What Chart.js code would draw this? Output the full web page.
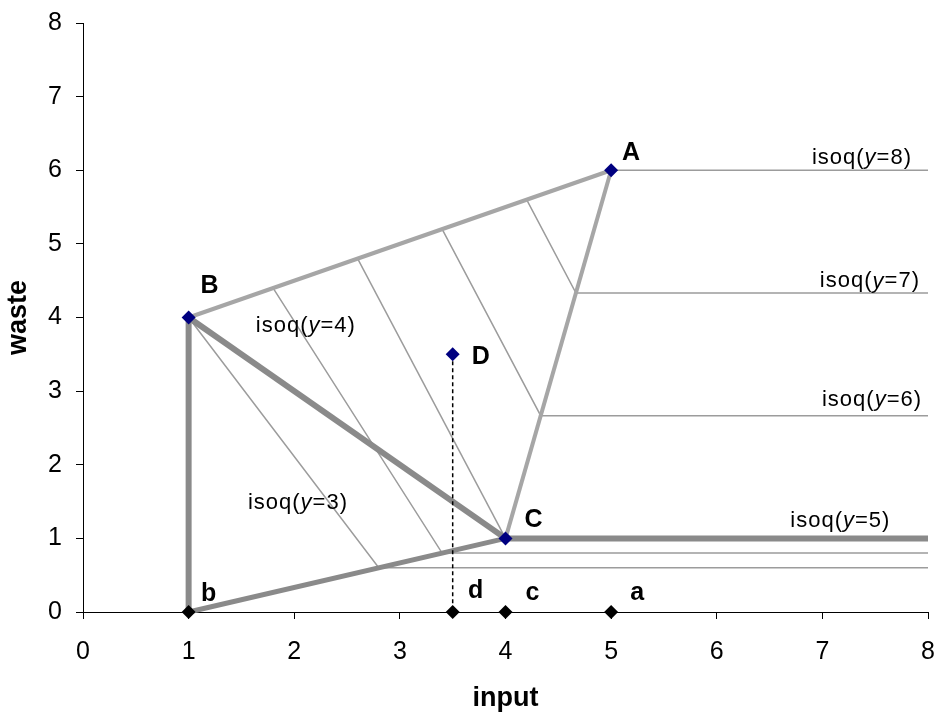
<!DOCTYPE html>
<html><head><meta charset="utf-8">
<script src="https://cdn.jsdelivr.net/npm/chart.js@4/dist/chart.umd.min.js"></script>
<style>html,body{margin:0;padding:0;background:#fff}#wrap{width:936px;height:718px;position:relative}</style>
</head><body><div id="wrap"><canvas id="c"></canvas></div>
<script>
// ---- data ----
const xTicks = [0, 1, 2, 3, 4, 5, 6, 7, 8];
const yTicks = [0, 1, 2, 3, 4, 5, 6, 7, 8];
const unitNames = ['A', 'B', 'C', 'D'];
const unitInput = [5, 1, 4, 3.5];
const unitWaste = [6, 4, 1, 3.5];
const baseNames = ['a', 'b', 'c', 'd'];
const baseInput = [5, 1, 4, 3.5];
const baseWaste = [0, 0, 0, 0];

const linebBX = [1, 1],   linebBY = [0, 4];
const lineBCX = [1, 4],   lineBCY = [4, 1];
const linebCX = [1, 4],   linebCY = [0, 1];
const lineBAX = [1, 5],   lineBAY = [4, 6];
const lineACX = [5, 4],   lineACY = [6, 1];
const lineCTailX = [4, 8], lineCTailY = [1, 1];

const isoq3X = [1, 2.8, 8],        isoq3Y = [4, 0.6, 0.6];
const isoq4X = [1.8, 3.4, 8],      isoq4Y = [4.4, 0.8, 0.8];
const isoq5X = [2.6, 4],           isoq5Y = [4.8, 1];
const isoq6X = [3.4, 4.333, 8],    isoq6Y = [5.2, 2.667, 2.667];
const isoq7X = [4.2, 4.667, 8],    isoq7Y = [5.6, 4.333, 4.333];
const isoq8X = [5, 8],             isoq8Y = [6, 6];

const dropX = [3.5, 3.5], dropY = [3.5, 0];

const isoqLevels = [3, 4, 5, 6, 7, 8];
// label anchor (data coordinates) for each isoquant text
const isoqLabelX = [2.035, 2.11, 7.17, 7.47, 7.45, 7.375];
const isoqLabelY = [1.48, 3.885, 1.24, 2.88, 4.49, 6.168];

// ---- helpers / styles ----
const zip = (xs, ys) => xs.map((x, i) => ({x: x, y: ys[i]}));
const FONT = '"Liberation Sans", Arial, Helvetica, sans-serif';
const DARK = '#8a8a8a', LIGHT = '#a6a6a6', THIN = '#9c9c9c';

function lineDs(xs, ys, color, width, extra) {
  return Object.assign({
    data: zip(xs, ys), showLine: true, borderColor: color, borderWidth: width,
    pointRadius: 0, pointHoverRadius: 0, fill: false, tension: 0, clip: false,
    borderCapStyle: 'butt', borderJoinStyle: 'miter'
  }, extra || {});
}

const unitOffsets = [[20, -17], [21, -31], [28, -18], [28, 3]];
const baseOffsets = [[26, -19], [20, -18], [27, -19], [23, -21]];

const labelPlugin = {
  id: 'labels',
  afterDatasetsDraw(chart) {
    const ctx = chart.ctx, xs = chart.scales.x, ys = chart.scales.y;
    ctx.save();
    ctx.fillStyle = '#000';
    ctx.textAlign = 'center';
    ctx.textBaseline = 'middle';
    ctx.font = 'bold 25px ' + FONT;
    unitNames.forEach((n, i) => {
      ctx.fillText(n, xs.getPixelForValue(unitInput[i]) + unitOffsets[i][0],
                      ys.getPixelForValue(unitWaste[i]) + unitOffsets[i][1]);
    });
    baseNames.forEach((n, i) => {
      ctx.fillText(n, xs.getPixelForValue(baseInput[i]) + baseOffsets[i][0],
                      ys.getPixelForValue(baseWaste[i]) + baseOffsets[i][1]);
    });
    ctx.textAlign = 'left';
    try { ctx.letterSpacing = '1px'; } catch (e) {}
    const normal = '22px ' + FONT, italic = 'italic 22px ' + FONT;
    isoqLevels.forEach((lv, i) => {
      const parts = [['isoq(', normal], ['y', italic], ['=' + lv + ')', normal]];
      let total = 0;
      const widths = parts.map(p => { ctx.font = p[1]; const w = ctx.measureText(p[0]).width; total += w; return w; });
      let x = xs.getPixelForValue(isoqLabelX[i]) - total / 2;
      const y = ys.getPixelForValue(isoqLabelY[i]);
      parts.forEach((p, k) => { ctx.font = p[1]; ctx.fillText(p[0], x, y); x += widths[k]; });
    });
    ctx.restore();
  }
};

const markerCommon = {
  showLine: false, pointStyle: 'rectRot', pointRadius: 7, pointHoverRadius: 7,
  pointBorderWidth: 0, clip: false
};

new Chart(document.getElementById('c'), {
  type: 'scatter',
  data: {
    datasets: [
      Object.assign({data: zip(unitInput, unitWaste), backgroundColor: '#000080', borderColor: '#000080'}, markerCommon),
      Object.assign({data: zip(baseInput, baseWaste), backgroundColor: '#000000', borderColor: '#000000'}, markerCommon),
      lineDs(dropX, dropY, '#000', 1.5, {borderDash: [4, 3]}),
      lineDs(lineBCX, lineBCY, DARK, 6),
      lineDs(linebBX, linebBY, DARK, 6),
      lineDs(linebCX, linebCY, DARK, 5),
      lineDs(lineCTailX, lineCTailY, DARK, 6),
      lineDs(lineBAX, lineBAY, LIGHT, 4),
      lineDs(lineACX, lineACY, LIGHT, 4),
      lineDs(isoq3X, isoq3Y, THIN, 1.5),
      lineDs(isoq4X, isoq4Y, THIN, 1.5),
      lineDs(isoq5X, isoq5Y, THIN, 1.5),
      lineDs(isoq6X, isoq6Y, THIN, 1.5),
      lineDs(isoq7X, isoq7Y, THIN, 1.5),
      lineDs(isoq8X, isoq8Y, THIN, 1.5)
    ]
  },
  options: {
    responsive: true, maintainAspectRatio: false, animation: false,
    layout: {padding: {top: 23, right: 8, left: 0, bottom: 0}},
    plugins: {legend: {display: false}, tooltip: {enabled: false}},
    events: [],
    scales: {
      x: {
        type: 'linear', min: 0, max: 8,
        afterBuildTicks: s => { s.ticks = xTicks.map(v => ({value: v})); },
        afterFit: s => { s.height = 106; s.paddingLeft = 0; s.paddingRight = 0; },
        ticks: {color: '#000', font: {family: FONT, size: 25}, padding: 18, maxRotation: 0},
        grid: {drawOnChartArea: false, drawTicks: true, tickLength: 7, color: '#000'},
        border: {display: true, color: '#000', width: 1},
        title: {display: true, text: 'input', color: '#000', font: {family: FONT, size: 27, weight: 'bold'}, padding: {top: 0, bottom: 3}}
      },
      y: {
        type: 'linear', min: 0, max: 8,
        afterBuildTicks: s => { s.ticks = yTicks.map(v => ({value: v})); },
        afterFit: s => { s.width = 83; s.paddingTop = 0; s.paddingBottom = 0; },
        ticks: {color: '#000', font: {family: FONT, size: 25}, padding: 14},
        grid: {drawOnChartArea: false, drawTicks: true, tickLength: 7, color: '#000'},
        border: {display: true, color: '#000', width: 1},
        title: {display: true, text: 'waste', color: '#000', font: {family: FONT, size: 27, weight: 'bold'}, padding: {top: 2, bottom: 0}}
      }
    }
  },
  plugins: [labelPlugin]
});
</script>
</body></html>
